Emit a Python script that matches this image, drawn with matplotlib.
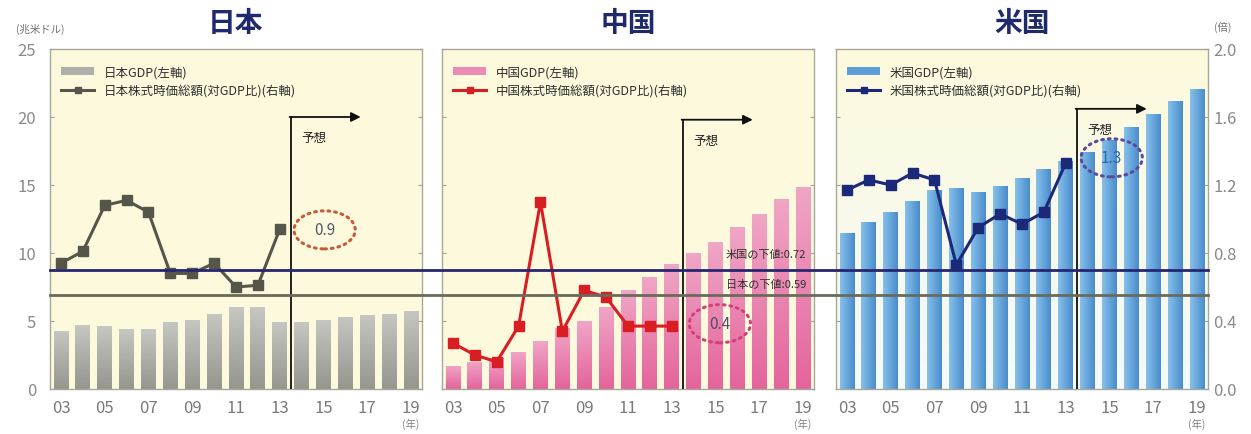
import numpy as np
import matplotlib.pyplot as plt
import matplotlib.transforms as mtransforms
from matplotlib.colors import LinearSegmentedColormap
from matplotlib.patches import Ellipse, Patch
from matplotlib.lines import Line2D

plt.rcParams['font.family'] = ['Noto Sans CJK JP', 'DejaVu Sans']

# データ (GDP: 兆米ドル / 株式時価総額: 対GDP比, 倍)
years = np.arange(2003, 2020)
hist_years = np.arange(2003, 2014)
tick_years = np.arange(2003, 2020, 2)
tick_labels = ['03', '05', '07', '09', '11', '13', '15', '17', '19']

jp_gdp = [4.3, 4.7, 4.6, 4.4, 4.4, 4.9, 5.1, 5.5, 6.0, 6.0, 4.9,
          4.9, 5.1, 5.3, 5.45, 5.55, 5.75]
cn_gdp = [1.7, 2.0, 2.3, 2.75, 3.5, 4.5, 5.0, 6.0, 7.3, 8.2, 9.2,
          10.0, 10.8, 11.9, 12.9, 14.0, 14.85]
us_gdp = [11.5, 12.3, 13.05, 13.85, 14.6, 14.75, 14.45, 14.95, 15.55, 16.2, 16.8,
          17.4, 18.3, 19.3, 20.2, 21.2, 22.05]

jp_cap = [0.74, 0.81, 1.08, 1.11, 1.04, 0.68, 0.68, 0.74, 0.60, 0.61, 0.94]
cn_cap = [0.27, 0.20, 0.16, 0.37, 1.10, 0.34, 0.58, 0.54, 0.37, 0.37, 0.37]
us_cap = [1.17, 1.23, 1.20, 1.27, 1.23, 0.73, 0.95, 1.03, 0.97, 1.04, 1.33]

us_floor = 0.70
jp_floor = 0.555
forecast_vals = ['0.9', '0.4', '1.3']

titles = ['日本', '中国', '米国']
gdp_labels = ['日本GDP(左軸)', '中国GDP(左軸)', '米国GDP(左軸)']
cap_labels = ['日本株式時価総額(対GDP比)(右軸)', '中国株式時価総額(対GDP比)(右軸)',
              '米国株式時価総額(対GDP比)(右軸)']

panels = [
    dict(gdp=jp_gdp, cap=jp_cap, top='#c6c6c2', bot='#96968f', mid='#b0b0aa',
         line='#55554a', ring='#c85a3c', txt='#505a70', arrow_y=20.0,
         ring_xy=(2015.05, 11.7), horiz=False),
    dict(gdp=cn_gdp, cap=cn_cap, top='#f0a6c6', bot='#e4649c', mid='#ec8cb6',
         line='#d81e22', ring='#d2407a', txt='#5a4a6a', arrow_y=19.8,
         ring_xy=(2015.2, 4.8), horiz=False),
    dict(gdp=us_gdp, cap=us_cap, top='#86c0ea', bot='#4a8ccc', mid='#5c9ed8',
         line='#1c2878', ring='#5a4a9a', txt='#2a6aaa', arrow_y=20.6,
         ring_xy=(2015.1, 17.0), horiz=True),
]

fig = plt.figure(figsize=(12.51, 4.35), dpi=100)
lefts = [50, 442, 836]
width_px = 372
bottom = 1 - 390 / 435
height = (390 - 50) / 435

axes2 = []
for i, p in enumerate(panels):
    ax = fig.add_axes([lefts[i] / 1251, bottom, width_px / 1251, height])
    ax.set_facecolor('#fdf9dc')
    if i == 2:
        bg = LinearSegmentedColormap.from_list('bg', ['#f4f9fb', '#fdf9dc'])
        ax.imshow(np.linspace(0, 1, 100).reshape(-1, 1), extent=[0, 1, 0, 1],
                  transform=ax.transAxes, origin='lower', aspect='auto',
                  cmap=bg, zorder=0)

    # グラデーション付き棒
    bars = ax.bar(years, p['gdp'], width=0.68, color=p['mid'], zorder=2)
    cmap = LinearSegmentedColormap.from_list('g', [p['bot'], p['top']])
    for b in bars:
        x0, w, h = b.get_x(), b.get_width(), b.get_height()
        if p['horiz']:
            grad = np.linspace(1, 0, 50).reshape(1, -1)
        else:
            grad = np.linspace(0, 1, 100).reshape(-1, 1)
        im = ax.imshow(grad, extent=[x0, x0 + w, 0, h], origin='lower',
                       aspect='auto', cmap=cmap, zorder=2.1)
        im.set_clip_path(b)

    ax.set_xlim(2002.5, 2019.5)
    ax.set_ylim(0, 25)
    ax.set_yticks(np.arange(0, 26, 5))
    ax.set_xticks(tick_years)
    ax.set_xticklabels(tick_labels)
    ax.tick_params(axis='x', direction='in', length=3, pad=7, labelsize=12,
                   labelcolor='#7a7a7a', color='#505050')
    ax.tick_params(axis='y', direction='in', length=3, labelsize=12,
                   labelcolor='#8a8a8a', color='#a0a0a0', pad=10,
                   labelleft=(i == 0))
    for s in ax.spines.values():
        s.set_color('#a8a898')
        s.set_linewidth(1.0)

    ax2 = ax.twinx()
    ax2.set_ylim(0, 2.0)
    ax2.set_yticks(np.arange(0, 2.01, 0.4))
    ax2.set_yticklabels(['0.0', '0.4', '0.8', '1.2', '1.6', '2.0'])
    ax2.tick_params(axis='y', direction='in', length=3, labelsize=12,
                    labelcolor='#8a8a8a', color='#a0a0a0', pad=4,
                    labelright=(i == 2))
    for s in ax2.spines.values():
        s.set_visible(False)
    ax2.plot(hist_years, p['cap'], color=p['line'], lw=2.2, marker='s',
             ms=7.5, mfc=p['line'], mec=p['line'], zorder=5)
    axes2.append(ax2)

    # 予想矢印
    ax.plot([2013.5, 2013.5], [0, p['arrow_y']], color='#101010', lw=1.3,
            zorder=4)
    ax.annotate('', xy=(2016.7, p['arrow_y']), xytext=(2013.45, p['arrow_y']),
                arrowprops=dict(arrowstyle='-|>', color='#101010', lw=1.3,
                                mutation_scale=14, shrinkA=0, shrinkB=0),
                zorder=4)
    ax.text(2014.0, p['arrow_y'] - 1.5, '予想', fontsize=9, color='#202020',
            ha='left', va='center', zorder=6)

    # 予想値の点線円
    ax.add_patch(Ellipse(p['ring_xy'], 2.8, 2.8, fill=False,
                         edgecolor=p['ring'], lw=2.2,
                         linestyle=(0, (0.6, 1.6)), capstyle='round',
                         zorder=6))
    ax.text(p['ring_xy'][0], p['ring_xy'][1], forecast_vals[i], fontsize=11,
            color=p['txt'], ha='center', va='center', zorder=6)

    ax.text(2019.0, -0.085, '(年)', transform=ax.get_xaxis_transform(),
            fontsize=7.5, color='#808080', ha='center', va='top')

    handles = [Patch(facecolor=p['mid'], edgecolor='none'),
               Line2D([], [], color=p['line'], lw=2.2, marker='s', ms=5)]
    ax2.legend(handles, [gdp_labels[i], cap_labels[i]], loc='upper left',
               bbox_to_anchor=(0.0, 0.985), frameon=False, fontsize=9,
               handlelength=2.6, handleheight=0.7, labelspacing=0.45,
               labelcolor='#303030')

    fig.text((lefts[i] + width_px / 2) / 1251, 0.945, titles[i],
             fontsize=20, fontweight='bold', color='#1f2a6c',
             ha='center', va='center')

# 下値ライン (3パネル共通)
tr = mtransforms.blended_transform_factory(fig.transFigure, axes2[0].transData)
x_from = lefts[0] / 1251
x_to = (lefts[2] + width_px) / 1251
fig.add_artist(Line2D([x_from, x_to], [us_floor, us_floor], transform=tr,
                      color='#262670', lw=2.0))
fig.add_artist(Line2D([x_from, x_to], [jp_floor, jp_floor], transform=tr,
                      color='#6a6a5a', lw=2.0))

ax_mid = axes2[1]
ax_mid.text(2019.15, 0.795, '米国の下値:0.72', fontsize=8, color='#303030',
            ha='right', va='center', zorder=7)
ax_mid.text(2019.15, 0.618, '日本の下値:0.59', fontsize=8, color='#303030',
            ha='right', va='center', zorder=7)

fig.text(40 / 1251, 1 - 29 / 435, '(兆米ドル)', fontsize=7.5, color='#707070',
         ha='center', va='center')
fig.text(1223 / 1251, 1 - 27 / 435, '(倍)', fontsize=7.5, color='#707070',
         ha='center', va='center')

fig.savefig('out.png', dpi=100)
